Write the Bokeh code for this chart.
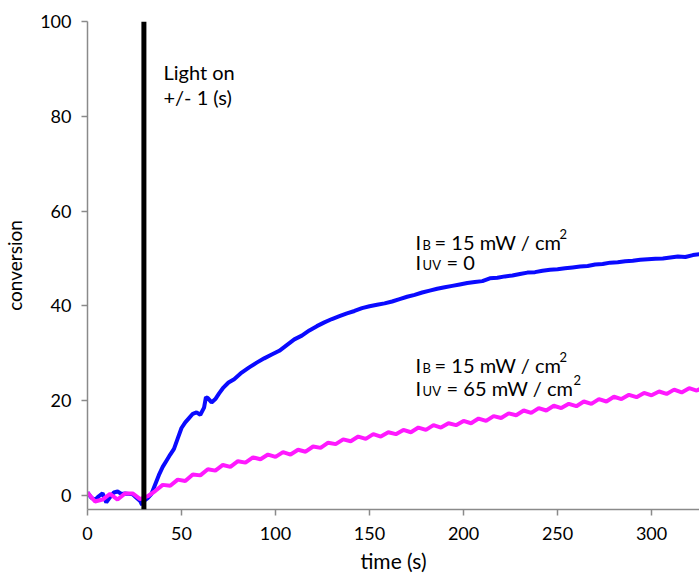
from bokeh.plotting import figure
from bokeh.models import Range1d, Span, FixedTicker, ColumnDataSource
from bokeh.core.properties import value
from bokeh.embed import file_html
from bokeh.resources import INLINE

# Conversion under blue light only (s, %)
blue_t = [0, 2, 4, 6, 8, 10, 12, 14, 16, 18, 20, 22, 24, 26, 28, 29, 30,
          32, 34, 36, 38, 40, 42, 44, 46, 48, 50, 52, 54, 56, 58, 60, 62, 63,
          64, 66, 68, 70, 72, 75, 78,
          82, 86, 90, 94, 98, 102, 106, 110, 114, 118, 122, 126, 130, 134, 138,
          142, 146, 150, 154, 158, 162, 166, 170, 174, 178, 182, 186, 190, 194,
          198, 202, 206, 210, 214, 218, 222, 226, 230, 234, 238, 242, 246, 250,
          254, 258, 262, 266, 270, 274, 278, 282, 286, 290, 294, 298, 302, 306,
          310, 314, 318, 322, 326]
blue_v = [0.6, -0.5, -1.0, -0.2, 0.4, -1.5, -0.4, 0.6, 0.8, 0.3, 0.4, 0.3, 0.2, -0.5, -1.2, -2.0, -1.2,
          -0.6, 0.3, 2.3, 4.3, 6.0, 7.3, 8.6, 9.8, 12.0, 14.2, 15.4, 16.3, 17.2, 17.5, 17.0, 18.5, 20.7,
          20.5, 19.6, 20.3, 21.5, 22.6, 23.8, 24.5,
          25.9, 27.0, 28.0, 28.9, 29.7, 30.5, 31.7, 32.9, 33.7, 34.8, 35.7, 36.5, 37.2, 37.8, 38.4,
          38.9, 39.5, 39.9, 40.2, 40.5, 40.9, 41.4, 41.9, 42.3, 42.8, 43.2, 43.6, 43.9, 44.2,
          44.5, 44.8, 45.0, 45.2, 45.8, 45.9, 46.2, 46.4, 46.7, 47.0, 47.1, 47.4, 47.6, 47.7,
          47.9, 48.1, 48.3, 48.4, 48.7, 48.8, 49.1, 49.2, 49.4, 49.5, 49.7, 49.8, 49.9, 50.0,
          50.2, 50.4, 50.3, 50.7, 50.9]

# Conversion under blue + UV light (s, %)
mag_t = [0, 4, 8, 12, 16, 20, 24, 28, 32, 36, 40, 44, 48, 52, 56, 60, 64, 68, 72, 76,
         80, 84, 88, 92, 96, 100, 104, 108, 112, 116, 120, 124, 128, 132, 136, 140,
         144, 148, 152, 156, 160, 164, 168, 172, 176, 180, 184, 188, 192, 196, 200,
         204, 208, 212, 216, 220, 224, 228, 232, 236, 240, 244, 248, 252, 256, 260,
         264, 268, 272, 276, 280, 284, 288, 292, 296, 300, 304, 308, 312, 316, 320,
         324, 328]
mag_v = [0.6, -1.3, -0.9, 0.3, -0.9, 0.4, 0.4, -0.8, -0.2, 0.9, 2.2, 2.0, 3.3, 3.0,
         4.4, 4.2, 5.5, 5.2, 6.4, 6.0, 7.2, 6.9, 8.0, 7.6, 8.6, 8.1, 9.1, 8.6, 9.6, 9.2,
         10.3, 10.0, 11.1, 10.8, 11.8, 11.4, 12.4, 11.9, 12.9, 12.4, 13.3, 12.9, 13.8,
         13.3, 14.3, 13.8, 14.8, 14.3, 15.2, 14.8, 15.7, 15.2, 16.2, 15.7, 16.7, 16.3,
         17.3, 16.9, 17.9, 17.4, 18.4, 17.9, 18.9, 18.4, 19.3, 18.8, 19.8, 19.3, 20.3,
         19.8, 20.8, 20.3, 21.2, 20.7, 21.6, 21.1, 21.9, 21.4, 22.3, 21.7, 22.6, 22.1,
         22.9]

light_on_t = 30
x_ticks = [0, 50, 100, 150, 200, 250, 300]
y_ticks = [0, 20, 40, 60, 80, 100]

FONT = "Lato"
AXIS_GREY = "#8a8a8a"

p = figure(width=699, height=575,
           x_range=Range1d(0, 325.5), y_range=Range1d(-3, 100),
           output_backend="svg", toolbar_location=None,
           min_border_left=87, min_border_right=0,
           min_border_top=21, min_border_bottom=66)
p.outline_line_color = None
p.grid.visible = False
p.background_fill_color = "white"

for ax in (p.xaxis[0], p.yaxis[0]):
    ax.axis_line_color = AXIS_GREY
    ax.axis_line_width = 1.5
    ax.major_tick_line_color = AXIS_GREY
    ax.major_tick_line_width = 1.5
    ax.major_tick_in = 0
    ax.major_tick_out = 6
    ax.minor_tick_line_color = None
    ax.major_label_text_font = FONT
    ax.major_label_text_font_size = "18px"
    ax.major_label_text_color = "black"
    ax.axis_label_text_font = FONT
    ax.axis_label_text_font_style = "normal"
    ax.axis_label_text_color = "black"

p.xaxis.ticker = FixedTicker(ticks=x_ticks)
p.yaxis.ticker = FixedTicker(ticks=y_ticks)
p.xaxis.axis_label = "time (s)"
p.yaxis.axis_label = "conversion"
p.xaxis.axis_label_text_font_size = "21px"
p.yaxis.axis_label_text_font_size = "19px"
p.xaxis.major_label_standoff = 11
p.xaxis.axis_label_standoff = 5
p.yaxis.major_label_standoff = 10
p.yaxis.axis_label_standoff = 11

blue_src = ColumnDataSource(dict(t=blue_t, v=blue_v))
mag_src = ColumnDataSource(dict(t=mag_t, v=mag_v))

p.line("t", "v", source=blue_src, line_color="#0a0aff", line_width=4)
p.line("t", "v", source=mag_src, line_color="#ff19ff", line_width=4)

p.add_layout(Span(location=light_on_t, dimension="height",
                  line_color="black", line_width=5))


def put(x, y, s, size, dx=0, dy=0):
    p.text(x=[x], y=[y], text=[s], x_offset=dx, y_offset=dy,
           text_font=value(FONT), text_font_size=f"{size}px",
           text_baseline="alphabetic", text_align="left", text_color="black")


# light-on marker caption
put(40.4, 89.3, "Light on", 20)
put(40.4, 84.0, "+/- 1 (s)", 20)

# blue-only annotation
put(174.5, 53.5, "I", 20)
put(174.5, 53.5, "B", 13, dx=7, dy=3)
put(174.5, 53.5, "= 15 mW / cm", 20, dx=19)
put(174.5, 53.5, "2", 13, dx=144, dy=-8)
put(174.5, 49.2, "I", 20)
put(174.5, 49.2, "UV", 13, dx=7, dy=3)
put(174.5, 49.2, "= 0", 20, dx=31)

# blue + UV annotation
put(174.5, 27.4, "I", 20)
put(174.5, 27.4, "B", 13, dx=7, dy=3)
put(174.5, 27.4, "= 15 mW / cm", 20, dx=19)
put(174.5, 27.4, "2", 13, dx=144, dy=-8)
put(174.5, 22.6, "I", 20)
put(174.5, 22.6, "UV", 13, dx=7, dy=3)
put(174.5, 22.6, "= 65 mW / cm", 20, dx=31)
put(174.5, 22.6, "2", 13, dx=158, dy=-8)

open("out.html", "w").write(file_html(p, INLINE))
